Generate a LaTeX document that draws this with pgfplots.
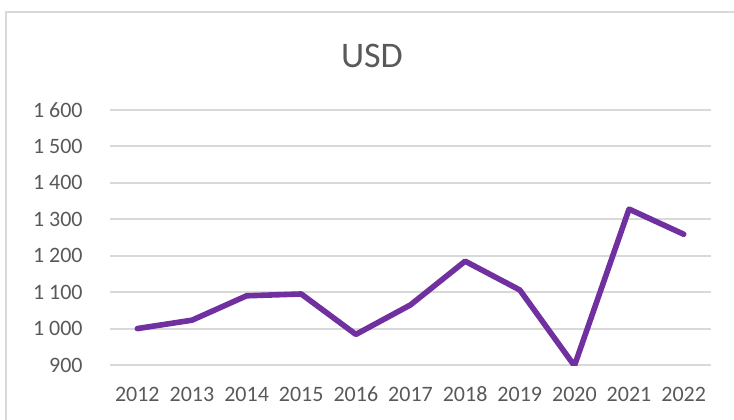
\documentclass[border=0pt]{standalone}
\usepackage{pgfplots}
\pgfplotsset{compat=1.18}
\usepackage{fontspec}
\setmainfont{Carlito}
\definecolor{txt}{HTML}{595959}
\definecolor{grd}{HTML}{D9D9D9}
\definecolor{ln}{HTML}{7030A0}
\begin{document}
\begin{tikzpicture}
\useasboundingbox (0,0) rectangle (367pt,209.5pt);
\begin{scope}
\clip (0,0) rectangle (367pt,209.5pt);
\draw[grd, line width=1pt] (3pt,-5pt) rectangle (380pt,203.75pt);
\end{scope}
\node[anchor=base, text=txt, font=\fontsize{18}{20}\selectfont, inner sep=0pt] at (186pt,175.85pt) {USD};
\begin{axis}[
  at={(55pt,27pt)}, anchor=south west, scale only axis,
  width=300.5pt, height=127.5pt,
  xmin=2011.5, xmax=2022.5, ymin=900, ymax=1600,
  xtick={2012,2013,2014,2015,2016,2017,2018,2019,2020,2021,2022},
  xticklabels={2012,2013,2014,2015,2016,2017,2018,2019,2020,2021,2022},
  ytick={900,1000,1100,1200,1300,1400,1500,1600},
  yticklabels={900,1 000,1 100,1 200,1 300,1 400,1 500,1 600},
  axis line style={draw=none}, major tick length=0pt,
  ymajorgrids, grid style={grd, line width=1pt},
  ticklabel style={text=txt, font=\fontsize{11}{13}\selectfont, inner sep=0pt},
  xticklabel style={anchor=base, yshift=-18.3pt},
  yticklabel style={anchor=east, xshift=-13.5pt},
]
\addplot[ln, line width=2.8pt, line join=round, line cap=round] coordinates {
  (2012,1000) (2013,1023) (2014,1090) (2015,1095) (2016,984) (2017,1065)
  (2018,1185) (2019,1106) (2020,898) (2021,1328) (2022,1259)
};
\end{axis}
\end{tikzpicture}
\end{document}
